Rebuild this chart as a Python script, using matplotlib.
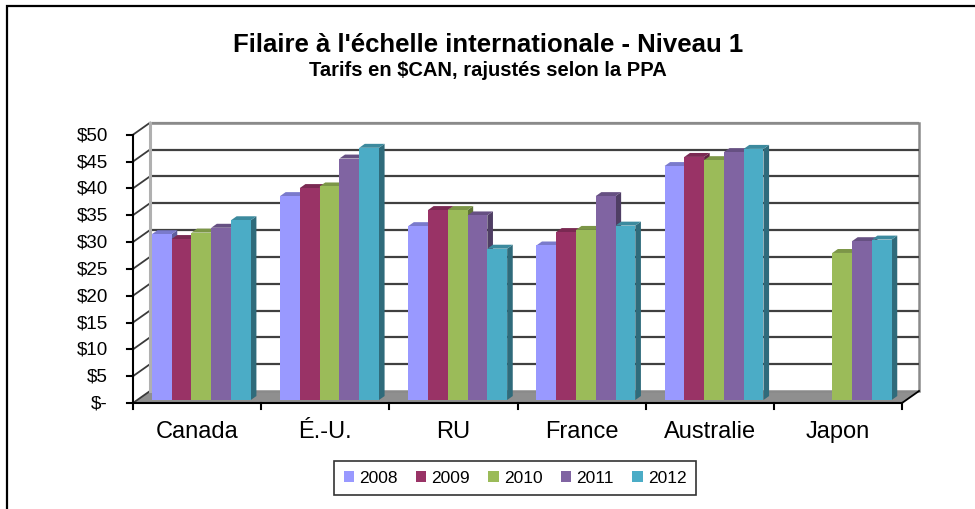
import matplotlib
matplotlib.use("Agg")
import matplotlib.pyplot as plt
from matplotlib.patches import Polygon, Rectangle, Patch
import numpy as np
from matplotlib.colors import to_rgb

plt.rcParams['font.family'] = ['Liberation Sans', 'DejaVu Sans']

categories = ["Canada", "É.-U.", "RU", "France", "Australie", "Japon"]
years = ["2008", "2009", "2010", "2011", "2012"]
v2008 = [30.9, 38.0, 32.4, 28.8, 43.6, np.nan]
v2009 = [30.0, 39.5, 35.4, 31.3, 45.3, np.nan]
v2010 = [31.2, 39.8, 35.4, 31.7, 44.7, 27.4]
v2011 = [32.1, 45.0, 34.4, 38.0, 46.2, 29.6]
v2012 = [33.5, 47.0, 28.2, 32.5, 46.8, 29.9]
series = [v2008, v2009, v2010, v2011, v2012]
colors = ["#9999FF", "#993366", "#9BBB59", "#8064A2", "#4BACC6"]
yticks = list(range(0, 55, 5))
ylabels = ["$-"] + ["$%d" % t for t in yticks[1:]]

W, H = 975, 510
fig = plt.figure(figsize=(W / 100, H / 100), dpi=100)

# outer frame (left & top visible)
fig.add_artist(Rectangle((7 / W, -0.1), 1.2, (H - 7) / H + 0.1, transform=fig.transFigure,
                         fill=False, edgecolor="black", linewidth=1.6))

# front plane axes
x0, x1 = 133, 902
y0, y1 = 404, 135.7
ax = fig.add_axes([x0 / W, (H - y0) / H, (x1 - x0) / W, (y0 - y1) / H])
ncat = len(categories)
ax.set_xlim(-0.5, ncat - 0.5)
ax.set_ylim(0, 50)
ax.axis("off")

px_x = (x1 - x0) / ncat      # pixels per x unit
px_y = (y0 - y1) / 50.0      # pixels per y unit
DX = 17 / px_x               # full depth in data units
DY = 12 / px_y

def darker(c, f):
    r, g, b = to_rgb(c)
    return (r * f, g * f, b * f)

L, R = -0.5, ncat - 0.5
# floor
ax.add_patch(Polygon([(L, 0), (R, 0), (R + DX, DY), (L + DX, DY)], closed=True,
                     facecolor="#8f8f8f", edgecolor="none", clip_on=False, zorder=1))
# back wall
ax.add_patch(Polygon([(L + DX, DY), (R + DX, DY), (R + DX, 50 + DY), (L + DX, 50 + DY)], closed=True,
                     facecolor="white", edgecolor="#8a8a8a", linewidth=1.8, clip_on=False, zorder=1))
# gridlines on back wall and left wall
for t in yticks[1:]:
    col = "#8a8a8a" if t == 50 else "#404040"
    ax.plot([L + DX, R + DX], [t + DY, t + DY], color=col, lw=1.6, clip_on=False, zorder=2,
            solid_capstyle="butt")
    ax.plot([L, L + DX], [t, t + DY], color="#3a3a3a", lw=1.3, clip_on=False, zorder=2)
ax.plot([L, L + DX], [0, DY], color="#3a3a3a", lw=1.3, clip_on=False, zorder=2)
# left wall back edge (light)
ax.plot([L + DX, L + DX], [DY, 50 + DY], color="#b0b0b0", lw=2.2, clip_on=False, zorder=2)
# right floor edge
ax.plot([R, R + DX], [0, DY], color="black", lw=1.3, clip_on=False, zorder=2)

# bars
nser = len(series)
w = 0.772 / nser
fb = 0.25           # front of bar depth fraction
db = 0.33           # bar depth fraction
bx, by = fb * DX, fb * DY
ddx, ddy = db * DX, db * DY
for i in range(ncat):
    for j, vals in enumerate(series):
        v = vals[i]
        if np.isnan(v):
            continue
        xc = i + bx + (j - (nser - 1) / 2) * w
        xl, xr = xc - w / 2, xc + w / 2
        c = colors[j]
        z = 3 + i * 10 + j
        ax.add_patch(Polygon([(xr, by), (xr + ddx, by + ddy), (xr + ddx, by + v + ddy), (xr, by + v)],
                             closed=True, facecolor=darker(c, 0.62), edgecolor="none",
                             clip_on=False, zorder=z))
        ax.add_patch(Polygon([(xl, by + v), (xr, by + v), (xr + ddx, by + v + ddy), (xl + ddx, by + v + ddy)],
                             closed=True, facecolor=darker(c, 0.8), edgecolor="none",
                             clip_on=False, zorder=z))
        ax.bar([xc], [v], width=w, bottom=by, color=c, edgecolor="none",
               clip_on=False, zorder=z + 0.5)

# front axes lines
ax.plot([L, R], [0, 0], color="black", lw=1.5, clip_on=False, zorder=100)
ax.plot([L, L], [0, 50], color="black", lw=1.5, clip_on=False, zorder=100)
tick_dx = 6 / px_x
tick_dy = 6 / px_y
for t, lab in zip(yticks, ylabels):
    ax.plot([L - tick_dx, L], [t, t], color="black", lw=1.5, clip_on=False, zorder=100)
    ax.text(L - 25 / px_x, t, lab, ha="right", va="center", fontsize=13.5, color="black")
for k in range(ncat + 1):
    ax.plot([L + k, L + k], [0, -tick_dy], color="black", lw=1.5, clip_on=False, zorder=100)
for i, cat in enumerate(categories):
    ax.text(i, -28 / px_y, cat, ha="center", va="center", fontsize=17, color="black")

# titles
fig.text(488 / W, 1 - 45 / H, "Filaire à l'échelle internationale - Niveau 1", ha="center",
         va="center", fontsize=18.5, fontweight="bold")
fig.text(488 / W, 1 - 71 / H, "Tarifs en $CAN, rajustés selon la PPA", ha="center",
         va="center", fontsize=14.5, fontweight="bold")

# legend
handles = [Patch(facecolor=c, edgecolor="none") for c in colors]
leg = fig.legend(handles, years, loc="center", bbox_to_anchor=(515 / W, 1 - 479 / H), ncol=5,
                 frameon=True, fontsize=12.5, handlelength=0.6, handleheight=0.6,
                 handletextpad=0.3, columnspacing=1.05, borderpad=0.55, fancybox=False)
leg.get_frame().set_edgecolor("black")
leg.get_frame().set_linewidth(1.2)

fig.savefig("out.png", dpi=100)
